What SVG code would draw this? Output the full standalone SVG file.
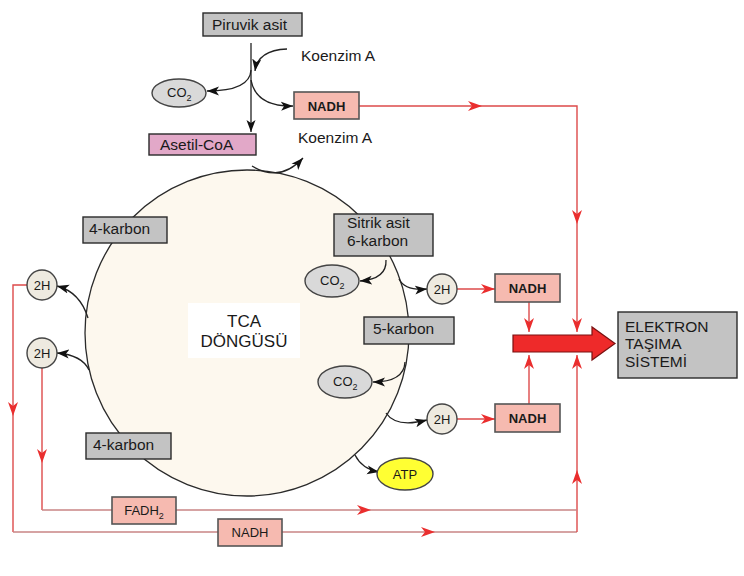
<svg xmlns="http://www.w3.org/2000/svg" width="744" height="576" viewBox="0 0 744 576">
<defs>
<style>
text{font-family:"Liberation Sans",Arial,sans-serif;fill:#1a1a1a}
.lbl{font-size:15.5px}
.sm{font-size:13px}
.b{font-weight:bold}
.gray{fill:#c3c3c3;stroke:#2a2a2a;stroke-width:1.4}
.nadh{fill:#f6bab0;stroke:#555;stroke-width:1.6}
.h2{fill:#eeeae0;stroke:#444;stroke-width:1.4}
.co2{fill:#d9d9d9;stroke:#444;stroke-width:1.4}
.blk{fill:none;stroke:#222;stroke-width:1.3;marker-end:url(#ab)}
.red{fill:none;stroke:#dd4a4a;stroke-width:1.4}
.redb{fill:none;stroke:#c98585;stroke-width:1.6}
.ra{marker-end:url(#ar)}
</style>
<marker id="ab" markerUnits="userSpaceOnUse" markerWidth="13" markerHeight="10" refX="12" refY="5" orient="auto"><path d="M0,0.5 L12,5 L0,9.5 L3,5 z" fill="#111"/></marker>
<marker id="ar" markerUnits="userSpaceOnUse" markerWidth="15" markerHeight="11" refX="14" refY="5.5" orient="auto"><path d="M0,0.5 L14,5.5 L0,10.5 L4,5.5 z" fill="#ea2e2e"/></marker>
</defs>

<g id="cycle">
<ellipse cx="247" cy="333" rx="162" ry="163" fill="#fdf8ee" stroke="#2a2a2a" stroke-width="1.3"/>
<rect x="188" y="303" width="112" height="55" fill="#ffffff"/>
<text x="244" y="327" font-size="17" text-anchor="middle">TCA</text>
<text x="244" y="347" font-size="17" text-anchor="middle">DÖNGÜSÜ</text>
</g>

<g id="connectors">
<!-- black arrows -->
<path class="blk" d="M251,43 V132"/>
<path class="blk" d="M287,49 Q258,50 255,71"/>
<path class="blk" d="M251,70 Q250,91 207,91"/>
<path class="blk" d="M251,80 Q256,107 293,106"/>
<path class="blk" d="M252,166 Q280,183 303,158"/>
<path class="blk" d="M88,318 Q80,292 57,286"/>
<path class="blk" d="M89,370 Q82,355 57,353"/>
<path class="blk" d="M386,260 Q387,279 360,281"/>
<path class="blk" d="M399,279 Q405,291 427,289"/>
<path class="blk" d="M405,362 Q404,382 373,382"/>
<path class="blk" d="M386,413 Q396,428 427,420"/>
<path class="blk" d="M355,455 Q362,469 379,472"/>
<!-- red lines -->
<path class="red ra" d="M359,106 H482"/>
<path class="red ra" d="M482,106 H577 V224"/>
<path class="red ra" d="M577,224 V332"/>
<path class="red ra" d="M457,289 H495"/>
<path class="red ra" d="M457,419 H495"/>
<path class="red ra" d="M529,302 V332"/>
<path class="red ra" d="M529,404 V355"/>
<path class="red ra" d="M27,285 H13 V416"/>
<path class="red" d="M13,416 V532"/>
<path class="redb" d="M13,532 H218"/>
<path class="redb ra" d="M282,532 H435"/>
<path class="redb" d="M435,532 H577"/>
<path class="red ra" d="M577,532 V470"/>
<path class="red ra" d="M577,470 V355"/>
<path class="red ra" d="M42,368 V463"/>
<path class="red" d="M42,463 V510"/>
<path class="redb" d="M42,510 H112"/>
<path class="redb ra" d="M176,510 H371"/>
<path class="redb" d="M371,510 H577"/>
</g>

<g id="piruvik"><rect class="gray" x="203" y="13" width="99" height="23"/><text class="lbl" x="212" y="30" font-size="16.5">Piruvik asit</text></g>
<g id="koenzimA1"><text class="lbl" x="301" y="61">Koenzim A</text></g>
<g id="koenzimA2"><text class="lbl" x="298" y="143">Koenzim A</text></g>
<g id="co2a"><ellipse class="co2" cx="179" cy="93" rx="27" ry="14"/><text class="sm" x="167" y="97">CO<tspan font-size="9" dy="4">2</tspan></text></g>
<g id="nadh1"><rect class="nadh" x="294" y="92" width="65" height="27"/><text class="sm b" x="326.5" y="110.5" text-anchor="middle">NADH</text></g>
<g id="asetil"><rect x="149" y="134" width="107" height="21" fill="#e2a8c8" stroke="#2a2a2a" stroke-width="1.4"/><text class="lbl" x="160" y="150">Asetil-CoA</text></g>
<g id="karbon4a"><rect class="gray" x="83" y="217" width="84" height="26"/><text class="lbl" x="89" y="234">4-karbon</text></g>
<g id="sitrik"><rect class="gray" x="334" y="214" width="99" height="42"/><text class="lbl" x="347" y="228">Sitrik asit</text><text class="lbl" x="347" y="246">6-karbon</text></g>
<g id="karbon5"><rect class="gray" x="364" y="317" width="90" height="27"/><text class="lbl" x="373" y="334">5-karbon</text></g>
<g id="karbon4b"><rect class="gray" x="86" y="433" width="85" height="26"/><text class="lbl" x="93" y="450">4-karbon</text></g>
<g id="co2b"><ellipse class="co2" cx="332" cy="281" rx="27" ry="16"/><text class="sm" x="320" y="285">CO<tspan font-size="9" dy="4">2</tspan></text></g>
<g id="co2c"><ellipse class="co2" cx="345" cy="382" rx="27" ry="16"/><text class="sm" x="333" y="386">CO<tspan font-size="9" dy="4">2</tspan></text></g>
<g id="h2a"><circle class="h2" cx="42" cy="285" r="15"/><text class="sm" x="42" y="290" text-anchor="middle">2H</text></g>
<g id="h2b"><circle class="h2" cx="42" cy="353" r="15"/><text class="sm" x="42" y="358" text-anchor="middle">2H</text></g>
<g id="h2c"><circle class="h2" cx="442" cy="289" r="15"/><text class="sm" x="442" y="294" text-anchor="middle">2H</text></g>
<g id="h2d"><circle class="h2" cx="442" cy="419" r="15"/><text class="sm" x="442" y="424" text-anchor="middle">2H</text></g>
<g id="nadh2"><rect class="nadh" x="495" y="274" width="65" height="28"/><text class="sm b" x="527.5" y="293" text-anchor="middle">NADH</text></g>
<g id="nadh3"><rect class="nadh" x="495" y="404" width="65" height="28"/><text class="sm b" x="527.5" y="423" text-anchor="middle">NADH</text></g>
<g id="atp"><ellipse cx="405" cy="474" rx="28" ry="16" fill="#ffff33" stroke="#444" stroke-width="1.4"/><text class="sm" x="405" y="479" text-anchor="middle">ATP</text></g>
<g id="fadh2"><rect class="nadh" x="112" y="497" width="64" height="27"/><text class="sm" x="144" y="515" text-anchor="middle">FADH<tspan font-size="9" dy="4">2</tspan></text></g>
<g id="nadh4"><rect class="nadh" x="218" y="519" width="64" height="27"/><text class="sm" x="250" y="537" text-anchor="middle">NADH</text></g>
<g id="bigarrow"><polygon points="513,335 592,335 592,327 615,343.5 592,360 592,352 513,352" fill="#ee2a2a" stroke="#7a1010" stroke-width="1.2"/></g>
<g id="ets"><rect class="gray" x="618" y="312" width="119" height="66"/><text class="lbl" x="625" y="332">ELEKTRON</text><text class="lbl" x="625" y="349">TAŞIMA</text><text class="lbl" x="625" y="367">SİSTEMİ</text></g>
</svg>
